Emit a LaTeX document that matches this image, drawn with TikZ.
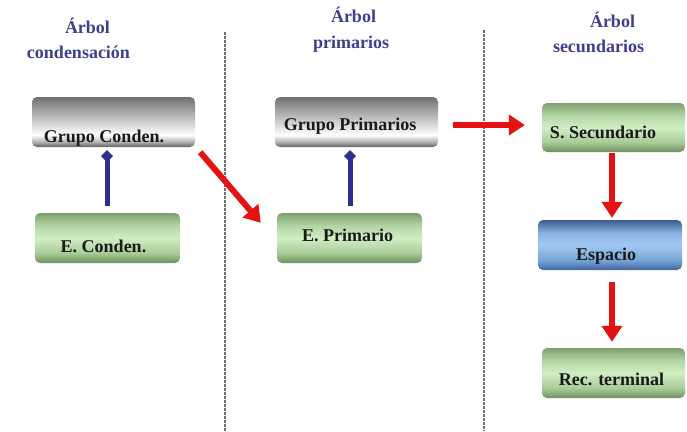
\documentclass[tikz,border=0pt]{standalone}
\usepackage{fontspec}
\setmainfont{Liberation Serif}
\usetikzlibrary{arrows.meta}
\definecolor{ttl}{HTML}{3F3F8F}
\definecolor{barrow}{HTML}{2E2E8C}
\definecolor{rarrow}{HTML}{E51212}
\definecolor{sepc}{HTML}{707070}
\definecolor{txt}{HTML}{1A1A1A}
\definecolor{gA}{HTML}{606060}\definecolor{gB}{HTML}{B0B0B0}\definecolor{gC}{HTML}{FFFFFF}\definecolor{gD}{HTML}{C8C8C8}\definecolor{gE}{HTML}{707070}
\definecolor{nA}{HTML}{6F8F5F}\definecolor{nB}{HTML}{A8CC98}\definecolor{nC}{HTML}{D2EEC4}\definecolor{nD}{HTML}{B4D6A4}\definecolor{nE}{HTML}{7F9F6F}
\definecolor{bA}{HTML}{40689C}\definecolor{bB}{HTML}{78A6D8}\definecolor{bC}{HTML}{A0C8F0}\definecolor{bD}{HTML}{88B4E4}\definecolor{bE}{HTML}{3C5C8C}
\pgfdeclareverticalshading{grayshade}{100bp}{color(0bp)=(gA); color(25bp)=(gA); color(30bp)=(gB); color(37bp)=(gC); color(52bp)=(gD); color(75bp)=(gE); color(100bp)=(gE)}
\pgfdeclareverticalshading{greenshade}{100bp}{color(0bp)=(nA); color(25bp)=(nA); color(35bp)=(nB); color(50bp)=(nC); color(62bp)=(nD); color(75bp)=(nE); color(100bp)=(nE)}
\pgfdeclareverticalshading{blueshade}{100bp}{color(0bp)=(bA); color(25bp)=(bA); color(35bp)=(bB); color(50bp)=(bC); color(62bp)=(bD); color(75bp)=(bE); color(100bp)=(bE)}
\tikzset{
  boxbase/.style={rectangle, rounded corners=5pt, inner sep=0pt},
  graybox/.style={boxbase, shading=grayshade},
  greenbox/.style={boxbase, shading=greenshade},
  bluebox/.style={boxbase, shading=blueshade},
  lbl/.style={anchor=base, font=\bfseries\fontsize{18}{18}\selectfont, text=txt, inner sep=0pt},
  ttltext/.style={anchor=base, font=\bfseries\fontsize{18}{18}\selectfont, text=ttl, inner sep=0pt},
  barr/.style={draw=barrow, line width=5pt, -{Diamond[length=12pt,width=12pt]}},
  rarr/.style={draw=rarrow, line width=6pt, -{Triangle[length=16pt,width=20pt]}},
  sep/.style={draw=sepc, line width=1.2pt, dash pattern=on 2.5pt off 1.5pt}
}
\begin{document}
\begin{tikzpicture}[x=1pt,y=-1pt]
\useasboundingbox[fill=white] (0,0) rectangle (687,431);
% separators
\coordinate (s1a) at (225,32); \coordinate (s1b) at (225,431);
\coordinate (s2a) at (484,30); \coordinate (s2b) at (484,431);
\draw[sep] (s1a) -- (s1b);
\draw[sep] (s2a) -- (s2b);
% titles
\node[ttltext] (t1a) at (87.5,33) {Árbol};
\node[ttltext] (t1b) at (78.5,58) {condensación};
\node[ttltext] (t2a) at (353.5,22) {Árbol};
\node[ttltext] (t2b) at (351,48) {primarios};
\node[ttltext] (t3a) at (612.5,27) {Árbol};
\node[ttltext] (t3b) at (598.5,52) {secundarios};
% boxes
\node[graybox, minimum width=163pt, minimum height=50pt] (gc) at (113.5,122) {};
\node[greenbox, minimum width=145pt, minimum height=50pt] (ec) at (107.5,238) {};
\node[graybox, minimum width=163pt, minimum height=50pt] (gp) at (356.5,122) {};
\node[greenbox, minimum width=145pt, minimum height=50pt] (ep) at (349.5,238) {};
\node[greenbox, minimum width=143pt, minimum height=49pt] (ss) at (613.5,127.5) {};
\node[bluebox, minimum width=144pt, minimum height=50pt] (es) at (610,245) {};
\node[greenbox, minimum width=143pt, minimum height=50pt] (rt) at (613.5,373) {};
% labels
\node[lbl] (gcl) at (104,142) {Grupo Conden.};
\node[lbl] (ecl) at (103.5,252) {E. Conden.};
\node[lbl] (gpl) at (350,130) {Grupo Primarios};
\node[lbl] (epl) at (347.5,241) {E. Primario};
\node[lbl] (ssl) at (603,138) {S. Secundario};
\node[lbl] (esl) at (606,260) {Espacio};
\node[lbl] (rtl) at (611.5,385) {Rec. terminal};
% arrows
\draw[barr] ([shift={(-0.5,-7)}]ec.north) -- ([shift={(-6.5,3)}]gc.south);
\draw[barr] ([shift={(0.5,-7)}]ep.north) -- ([shift={(-6.5,3)}]gp.south);
\draw[rarr] ([shift={(5,5)}]gc.south east) -- ([shift={(-16,10)}]ep.north west);
\draw[rarr] ([shift={(15,3)}]gp.east) -- ([shift={(-17,-2.5)}]ss.west);
\draw[rarr] ([shift={(-1.5,1)}]ss.south) -- ([shift={(2,-2)}]es.north);
\draw[rarr] ([shift={(2,12)}]es.south) -- ([shift={(-1.5,-6)}]rt.north);
\end{tikzpicture}
\end{document}
